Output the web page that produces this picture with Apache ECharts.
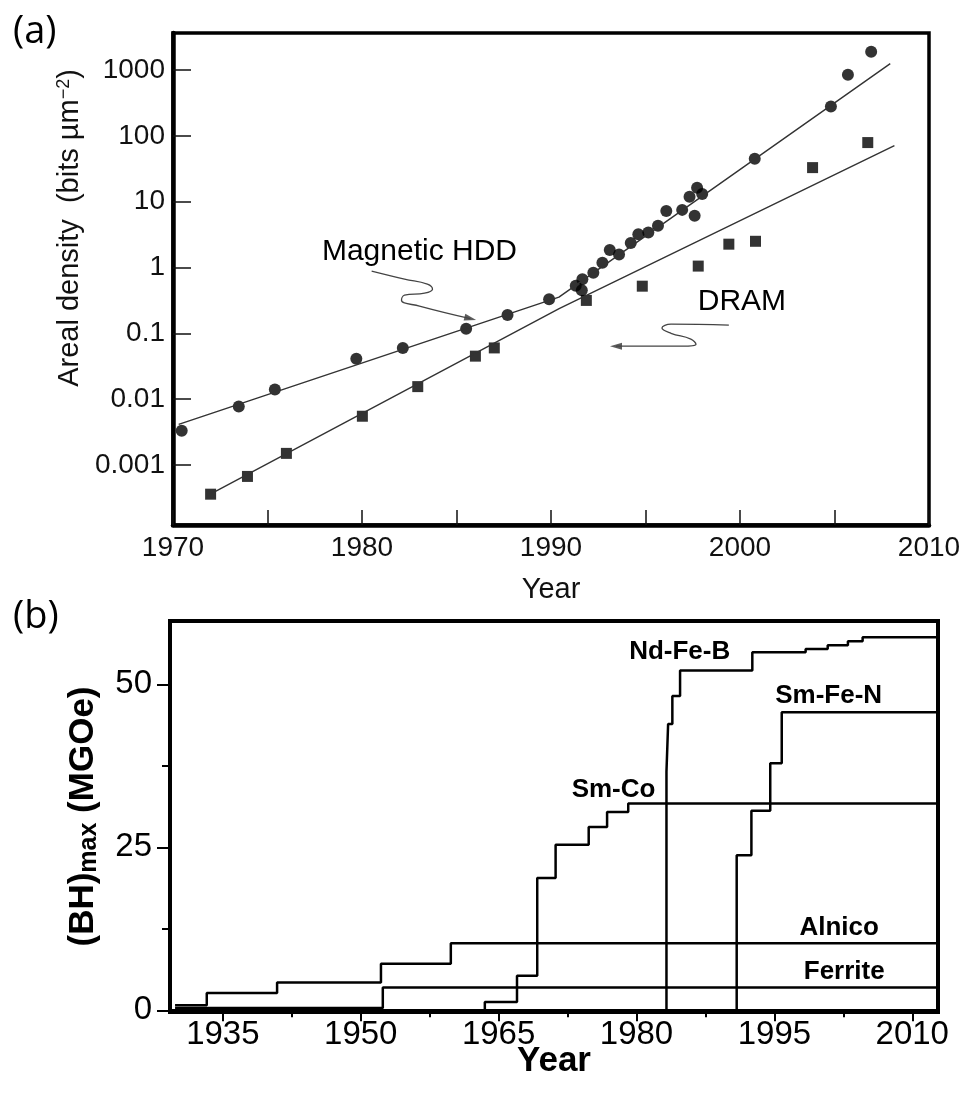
<!DOCTYPE html>
<html><head><meta charset="utf-8">
<script src="https://cdn.jsdelivr.net/npm/echarts@6/dist/echarts.min.js"></script>
<style>html,body{margin:0;padding:0;background:#fff}#c{width:967px;height:1093px}</style>
</head><body><div id="c"></div>
<script>
// ---------- Panel (a): areal density ----------
const hddYears  = [1970.46,1973.48,1975.39,1979.70,1982.16,1985.51,1987.70,1989.90,1991.31,1991.63,1991.66,1992.24,1992.72,1993.11,1993.60,1994.22,1994.62,1995.15,1995.66,1996.10,1996.94,1997.33,1997.60,1997.73,1998.00,2000.78,2004.81,2005.71,2006.94];
const hddValues = [0.0033,0.0077,0.014,0.041,0.060,0.117,0.19,0.33,0.53,0.45,0.66,0.83,1.18,1.85,1.58,2.35,3.2,3.4,4.3,7.2,7.5,11.9,6.1,16.3,13.1,45,279,847,1900];
const dramYears  = [1971.99,1973.94,1976.00,1980.02,1982.95,1986.00,1987.00,1991.87,1994.83,1997.79,1999.41,2000.82,2003.84,2006.76];
const dramValues = [0.00036,0.00067,0.0015,0.0055,0.0155,0.045,0.060,0.316,0.52,1.05,2.26,2.5,32.9,79];
const hddFitYears  = [1970.3, 1990.42, 2007.95];
const hddFitValues = [0.00414, 0.355, 1250];
const dramFitYears  = [1972.0, 1990.43, 2008.17];
const dramFitValues = [0.000365, 0.237, 71];
const aLabelNames  = ['Magnetic HDD', 'DRAM'];
const aLabelYears  = [1983.04, 2000.1];
const aLabelValues = [1.71, 0.298];
const hddArrowYears  = [1980.51,1982.25,1983.46,1983.73,1983.31,1982.25,1982.09,1983.04,1985.73];
const hddArrowValues = [0.881,0.665,0.558,0.469,0.408,0.380,0.319,0.259,0.167];
const dramArrowYears  = [1999.41,1996.35,1995.87,1996.35,1997.40,1997.67,1996.93,1993.44];
const dramArrowValues = [0.133,0.138,0.120,0.100,0.0817,0.0685,0.0638,0.0638];

// ---------- Panel (b): (BH)max ----------
const ndfebYears  = [1983.26,1983.26,1983.44,1983.9,1984.74,1992.6,1998.4,2000.8,2003.0,2004.6,2012.8];
const ndfebValues = [0,36.6,43.9,48.2,52.1,54.9,55.4,56.0,56.6,57.2,57.2];
const smfenYears  = [1990.9,1990.9,1992.5,1994.55,1995.8,2012.8];
const smfenValues = [0,23.8,30.6,37.9,45.7,45.7];
const smcoYears  = [1963.5,1963.5,1967.0,1969.2,1971.2,1974.8,1976.8,1979.1,2012.8];
const smcoValues = [0,1.3,5.3,20.3,25.4,28.1,30.4,31.7,31.7];
const alnicoYears  = [1929.8,1933.25,1940.9,1952.2,1959.8,2012.8];
const alnicoValues = [0.8,2.66,4.28,7.14,10.3,10.3];
const ferriteYears  = [1929.8,1952.4,2012.8];
const ferriteValues = [0.35,3.5,3.5];
const bLabelNames  = ['Nd-Fe-B','Sm-Fe-N','Sm-Co','Alnico','Ferrite'];
const bLabelYears  = [1984.7,2000.9,1977.5,2002.05,2002.6];
const bLabelValues = [54.9,48.3,33.8,12.7,5.9];
const bXTicks = [1935,1950,1965,1980,1995,2010];
const bXMinor = [1942.5,1957.5,1972.5,1987.5,2002.5];
const bYTicks = [0,25,50];
const bYMinor = [12.5,37.5];

const zip = (xs, ys) => xs.map((x, i) => [x, ys[i]]);
const FA = 'Liberation Sans, Arial, Helvetica, sans-serif';
const TXT = '#111';

function stepSeries(name, xs, ys) {
  return { name, type: 'line', xAxisIndex: 1, yAxisIndex: 1, step: 'end', data: zip(xs, ys),
    symbol: 'none', lineStyle: { color: '#000', width: 2.5 }, silent: true };
}
function labelSeries(names, xs, ys, xi, yi, style) {
  return { type: 'scatter', xAxisIndex: xi, yAxisIndex: yi, symbolSize: 0,
    itemStyle: { color: '#000' }, silent: true,
    data: names.map((n, i) => ({ value: [xs[i], ys[i]], name: n })),
    label: Object.assign({ show: true, position: 'inside', formatter: p => p.name,
      textBorderWidth: 0, textShadowBlur: 0, opacity: 1 }, style) };
}

const chart = echarts.init(document.getElementById('c'), null, { renderer: 'canvas' });
chart.setOption({
  animation: false,
  backgroundColor: '#fff',
  title: [
    { text: '(a)', left: 8, top: 8, textStyle: { fontSize: 38, fontWeight: 'normal', fontFamily: 'Open Sans', color: '#000' } },
    { text: '(b)', left: 8, top: 593, textStyle: { fontSize: 38, fontWeight: 'normal', fontFamily: 'Open Sans', color: '#000' } }
  ],
  grid: [
    { left: 173, top: 33, width: 756, height: 492, show: true, borderColor: '#000', borderWidth: 3.5, backgroundColor: 'rgba(0,0,0,0)' },
    { left: 170, top: 621, width: 768, height: 391, show: true, borderColor: '#000', borderWidth: 4, backgroundColor: 'rgba(0,0,0,0)' }
  ],
  xAxis: [
    { gridIndex: 0, type: 'value', min: 1970, max: 2010, interval: 5,
      axisLine: { lineStyle: { color: '#000', width: 4.5 } },
      axisTick: { inside: true, length: 15, lineStyle: { color: '#111', width: 1.5 } },
      axisLabel: { formatter: v => (v % 10 === 0 ? String(v) : ''), margin: 9, fontSize: 28, color: TXT, fontFamily: FA, showMinLabel: true, showMaxLabel: true },
      splitLine: { show: false },
      name: 'Year', nameLocation: 'middle', nameGap: 50,
      nameTextStyle: { fontSize: 29, color: TXT, fontFamily: FA } },
    { gridIndex: 1, type: 'value', min: 1929.25, max: 2012.8,
      axisLine: { lineStyle: { color: '#000', width: 4 } },
      axisTick: { customValues: bXTicks, length: 11, lineStyle: { color: '#000', width: 2 } },
      axisLabel: { customValues: bXTicks, formatter: v => String(v), margin: 6, fontSize: 33, color: '#000', fontFamily: FA },
      splitLine: { show: false },
      name: 'Year', nameLocation: 'middle', nameGap: 32, nameMoveOverlap: false,
      nameTextStyle: { fontSize: 35, fontWeight: 'bold', color: '#000', fontFamily: FA } },
    { gridIndex: 1, type: 'value', min: 1929.25, max: 2012.8, position: 'bottom',
      axisLine: { show: false },
      axisTick: { customValues: bXMinor, length: 7, lineStyle: { color: '#000', width: 2 } },
      axisLabel: { show: false }, splitLine: { show: false } }
  ],
  yAxis: [
    { gridIndex: 0, type: 'log', logBase: 10, min: 1.225e-4, max: 3648,
      axisLine: { lineStyle: { color: '#000', width: 4.5 } },
      axisTick: { inside: true, length: 18, lineStyle: { color: '#111', width: 1.5 } },
      minorTick: { show: false }, splitLine: { show: false }, minorSplitLine: { show: false },
      axisLabel: { showMinLabel: false, showMaxLabel: false, margin: 8, fontSize: 28, color: TXT, fontFamily: FA,
        formatter: v => { const e = Math.round(Math.log10(v)); return String(Number(Math.pow(10, e).toFixed(Math.max(0, -e)))); } },
      name: 'Areal density  (bits µm{sup|−2})', nameLocation: 'middle', nameGap: 86,
      nameTextStyle: { fontSize: 29, color: TXT, fontFamily: FA, padding: [0, 0, 0, 102],
        rich: { sup: { fontSize: 18, color: TXT, fontFamily: FA, verticalAlign: 'top', padding: [0, 0, 8, 0] } } } },
    { gridIndex: 1, type: 'value', min: -0.25, max: 59.7,
      axisLine: { lineStyle: { color: '#000', width: 4 } },
      axisTick: { customValues: bYTicks, length: 13, lineStyle: { color: '#000', width: 2 } },
      axisLabel: { customValues: bYTicks, formatter: v => String(v), margin: 18, fontSize: 33, color: '#000', fontFamily: FA },
      splitLine: { show: false },
      name: '(BH){sub|max} (MGOe)', nameLocation: 'middle', nameGap: 68,
      nameTextStyle: { fontSize: 35, fontWeight: 'bold', color: '#000', fontFamily: FA,
        rich: { sub: { fontSize: 25, fontWeight: 'bold', color: '#000', fontFamily: FA, verticalAlign: 'bottom', padding: [12, 0, 0, 0] } } } },
    { gridIndex: 1, type: 'value', min: -0.25, max: 59.7, position: 'left',
      axisLine: { show: false },
      axisTick: { customValues: bYMinor, length: 8, lineStyle: { color: '#000', width: 2 } },
      axisLabel: { show: false }, splitLine: { show: false } }
  ],
  series: [
    { name: 'HDD fit', type: 'line', xAxisIndex: 0, yAxisIndex: 0, data: zip(hddFitYears, hddFitValues),
      symbol: 'none', lineStyle: { color: '#333', width: 1.4 }, silent: true },
    { name: 'DRAM fit', type: 'line', xAxisIndex: 0, yAxisIndex: 0, data: zip(dramFitYears, dramFitValues),
      symbol: 'none', lineStyle: { color: '#333', width: 1.4 }, silent: true },
    { name: 'Magnetic HDD', type: 'scatter', xAxisIndex: 0, yAxisIndex: 0, data: zip(hddYears, hddValues),
      symbol: 'circle', symbolSize: 12, itemStyle: { color: '#000' } },
    { name: 'DRAM', type: 'scatter', xAxisIndex: 0, yAxisIndex: 0, data: zip(dramYears, dramValues),
      symbol: 'rect', symbolSize: 11, itemStyle: { color: '#000' } },
    { name: 'HDD arrow', type: 'line', xAxisIndex: 0, yAxisIndex: 0, data: zip(hddArrowYears, hddArrowValues),
      smooth: 0.45, symbol: 'none', lineStyle: { color: '#444', width: 1.3 }, silent: true },
    { name: 'DRAM arrow', type: 'line', xAxisIndex: 0, yAxisIndex: 0, data: zip(dramArrowYears, dramArrowValues),
      smooth: 0.45, symbol: 'none', lineStyle: { color: '#444', width: 1.3 }, silent: true },
    { name: 'arrowheads', type: 'scatter', xAxisIndex: 0, yAxisIndex: 0, silent: true,
      data: [
        { value: [hddArrowYears[hddArrowYears.length - 1], hddArrowValues[hddArrowValues.length - 1]], symbolRotate: -104 },
        { value: [dramArrowYears[dramArrowYears.length - 1], dramArrowValues[dramArrowValues.length - 1]], symbolRotate: 90 }
      ],
      symbol: 'triangle', symbolSize: [7, 12], itemStyle: { color: '#333' } },
    labelSeries(aLabelNames, aLabelYears, aLabelValues, 0, 0, { fontSize: 30, color: '#000', fontFamily: FA }),
    stepSeries('Ferrite', ferriteYears, ferriteValues),
    stepSeries('Alnico', alnicoYears, alnicoValues),
    stepSeries('Sm-Co', smcoYears, smcoValues),
    stepSeries('Nd-Fe-B', ndfebYears, ndfebValues),
    stepSeries('Sm-Fe-N', smfenYears, smfenValues),
    labelSeries(bLabelNames, bLabelYears, bLabelValues, 1, 1, { fontSize: 26, fontWeight: 'bold', color: '#000', fontFamily: FA })
  ]
});
</script></body></html>
